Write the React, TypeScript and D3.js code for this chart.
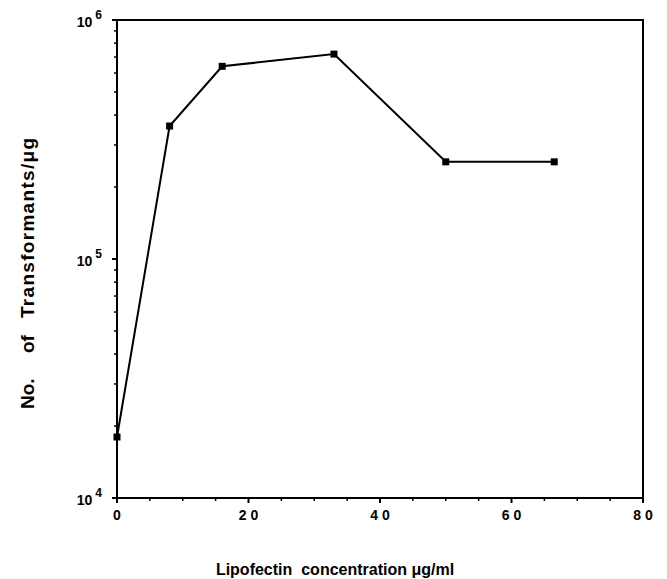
import React from 'react';
import * as d3 from 'd3';

// Lipofectin concentration (ug/ml) vs number of transformants per ug
const concentrations = [0, 8, 16, 33, 50, 66.5];
const transformants = [1.8e4, 3.6e5, 6.4e5, 7.2e5, 2.55e5, 2.55e5];
const xTickValues = [0, 20, 40, 60, 80];
const xTickLabels = ['0', '2 0', '4 0', '6 0', '8 0'];
const yDecades = [4, 5, 6];

const W = 667;
const H = 579;
const margin = { left: 117, right: 24, top: 20, bottom: 81 };
const font = 'Arial, "Liberation Sans", Helvetica, sans-serif';

const App: React.FC = () => {
  const x = d3.scaleLinear().domain([0, 80]).range([margin.left, W - margin.right]);
  const y = d3.scaleLog().domain([1e4, 1e6]).range([H - margin.bottom, margin.top]);

  const line = d3
    .line<number>()
    .x((_, i) => x(concentrations[i]))
    .y((d) => y(d));

  const minorX = d3.range(0, 81, 5).filter((v) => v % 20 !== 0);
  const minorY: number[] = [];
  [1e4, 1e5].forEach((base) => {
    for (let k = 2; k <= 9; k++) minorY.push(base * k);
  });

  const x0 = x(0);
  const x1 = x(80);
  const y0 = y(1e4);
  const y1 = y(1e6);

  // y title pieces (rotated): where each starts on the page, and its length
  const yTitle = [
    { t: 'No.', start: 409, len: 0 },
    { t: 'of', start: 353, len: 0 },
    { t: 'Transformants/μg', start: 318, len: 180 },
  ];

  return (
    <svg width={W} height={H} style={{ position: 'absolute', left: 0, top: 0 }}>
      <rect width={W} height={H} fill="#fff" />
      {/* frame */}
      <rect x={x0} y={y1} width={x1 - x0} height={y0 - y1} fill="none" stroke="#000" strokeWidth={2} />

      {/* x ticks */}
      {xTickValues.map((v, i) => (
        <g key={'xt' + v}>
          <line x1={x(v)} x2={x(v)} y1={y0} y2={y0 + 5} stroke="#000" strokeWidth={2} />
          <text
            x={x(v)}
            y={y0 + 22}
            textAnchor="middle"
            fontFamily={font}
            fontWeight="bold"
            fontSize={14}
            style={{ whiteSpace: 'pre' }}
          >
            {xTickLabels[i]}
          </text>
        </g>
      ))}
      {minorX.map((v) => (
        <line key={'xm' + v} x1={x(v)} x2={x(v)} y1={y0} y2={y0 + 3} stroke="#000" strokeWidth={1.5} />
      ))}

      {/* y ticks */}
      {yDecades.map((p) => (
        <g key={'yt' + p}>
          <line x1={x0 - 5} x2={x0} y1={y(Math.pow(10, p))} y2={y(Math.pow(10, p))} stroke="#000" strokeWidth={2} />
          <text x={x0 - 15} y={y(Math.pow(10, p)) + 7} textAnchor="end" fontFamily={font} fontWeight="bold" fontSize={14}>
            10
            <tspan dx={3} dy={-8} fontSize={12}>
              {p}
            </tspan>
          </text>
        </g>
      ))}
      {minorY.map((v) => (
        <line key={'ym' + v} x1={x0 - 3} x2={x0} y1={y(v)} y2={y(v)} stroke="#000" strokeWidth={1.5} />
      ))}

      {/* data */}
      <path d={line(transformants) || ''} fill="none" stroke="#000" strokeWidth={2} />
      {transformants.map((v, i) => (
        <rect
          key={'pt' + i}
          x={x(concentrations[i]) - 3.5}
          y={y(v) - 3.5}
          width={7}
          height={7}
          fill="#000"
        />
      ))}

      {/* axis titles */}
      <text
        x={335}
        y={575}
        textAnchor="middle"
        fontFamily={font}
        fontWeight="bold"
        fontSize={16}
        style={{ whiteSpace: 'pre' }}
      >
        {'Lipofectin  concentration μg/ml'}
      </text>
      {yTitle.map((p) => (
        <text
          key={p.t}
          transform={`translate(34,${p.start}) rotate(-90)`}
          textAnchor="start"
          fontFamily={font}
          fontWeight="bold"
          fontSize={19}
          textLength={p.len || undefined}
          lengthAdjust={p.len ? 'spacing' : undefined}
        >
          {p.t}
        </text>
      ))}
    </svg>
  );
};

export default App;
